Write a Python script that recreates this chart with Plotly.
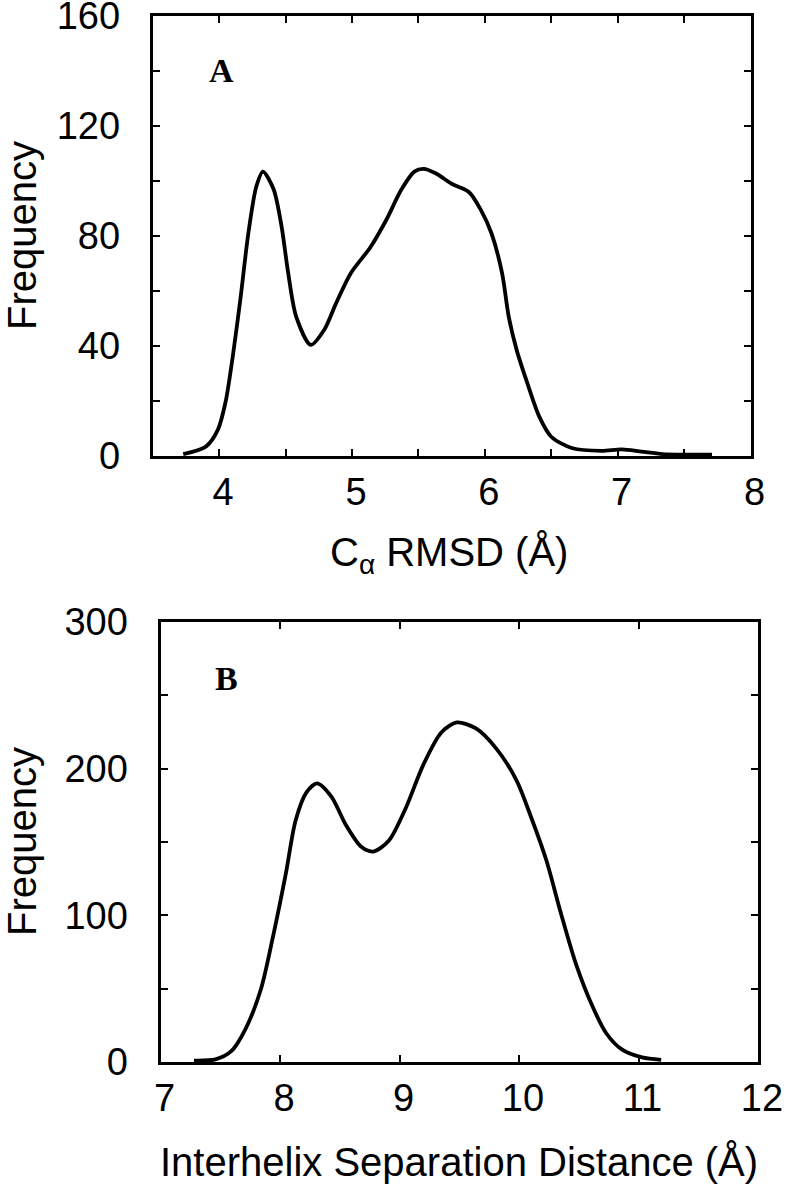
import plotly.graph_objects as go

# ---- Panel A: C-alpha RMSD distribution ----
rmsd_x = [3.73, 3.90, 3.99, 4.05, 4.105, 4.16, 4.22, 4.28, 4.33, 4.41, 4.47, 4.52, 4.58,
          4.69, 4.79, 4.88, 4.99, 5.14, 5.26, 5.37, 5.47, 5.54, 5.63, 5.75, 5.88, 5.97,
          6.05, 6.13, 6.18, 6.24, 6.32, 6.41, 6.50, 6.66, 6.88, 7.03, 7.18, 7.34, 7.71]
rmsd_freq = [0.7, 3.4, 9.5, 20, 37, 57, 81, 98, 103.4, 97, 83.5, 66.5, 50.7,
             40.4, 45.8, 55.5, 66.4, 76, 86, 96.7, 103.4, 104.4, 102.8, 99, 96, 89.5,
             81, 66.5, 50.7, 38.5, 26.5, 14.3, 7, 2.8, 1.9, 2.4, 1.6, 0.7, 0.5]

# ---- Panel B: interhelix separation distance distribution ----
sep_x = [7.28, 7.46, 7.59, 7.71, 7.84, 7.94, 8.05, 8.13, 8.22, 8.31, 8.43, 8.55, 8.68,
         8.78, 8.91, 9.05, 9.20, 9.35, 9.48, 9.64, 9.81, 9.98, 10.10, 10.23, 10.35,
         10.48, 10.61, 10.73, 10.86, 11.03, 11.19]
sep_freq = [1, 1.8, 7.2, 22.3, 49.6, 85, 129, 164.5, 183.7, 190, 181, 161.8, 146.7,
            143.5, 150.8, 172.7, 202.8, 224.7, 231.5, 227.4, 213.7, 191.9, 167.2, 137.2,
            101.6, 66, 38.8, 19.6, 8.6, 3.1, 1.5]

# ---- ticks ----
rmsd_xticks = [4, 5, 6, 7, 8]
rmsd_xticktext = ["4", "5", "6", "7", "8"]
rmsd_xminor = [4.5, 5.5, 6.5, 7.5]
rmsd_yticks = [0, 40, 80, 120, 160]
rmsd_yticktext = ["0", "40", "80", "120", "160"]
rmsd_yminor = [20, 60, 100, 140]
sep_xticks = [7, 8, 9, 10, 11, 12]
sep_xticktext = ["7", "8", "9", "10", "11", "12"]
sep_yticks = [0, 100, 200, 300]
sep_yticktext = ["0", "100", "200", "300"]
sep_yminor = [50, 150, 250]

W, H = 786, 1189
def fx(p):
    return p / W
def fy(p):
    return 1 - p / H

FONT = "Liberation Sans, Arial, Helvetica, sans-serif"
SERIF = "Liberation Serif, Times New Roman, serif"

fig = go.Figure()
fig.add_trace(go.Scatter(x=rmsd_x, y=rmsd_freq, mode="lines", xaxis="x", yaxis="y",
                         line=dict(color="black", width=3.8, shape="spline", smoothing=0.8),
                         showlegend=False))
fig.add_trace(go.Scatter(x=sep_x, y=sep_freq, mode="lines", xaxis="x2", yaxis="y2",
                         line=dict(color="black", width=3.8, shape="spline", smoothing=0.8),
                         showlegend=False))

def axis_style(minor_vals=None):
    d = dict(showline=True, linecolor="black", linewidth=3, mirror="ticks",
             ticks="inside", ticklen=7, tickwidth=2, tickcolor="black",
             showgrid=False, zeroline=False, automargin=False,
             ticklabeloverflow="allow",
             tickfont=dict(family=FONT, size=38, color="black"))
    if minor_vals is not None:
        d["minor"] = dict(tickmode="array", tickvals=minor_vals, ticks="inside",
                          ticklen=7, tickwidth=2, tickcolor="black", showgrid=False)
    return d

fig.update_layout(
    template="none",
    width=W, height=H,
    margin=dict(l=0, r=0, t=0, b=0, autoexpand=False),
    paper_bgcolor="white", plot_bgcolor="white",
    showlegend=False,
    xaxis=dict(domain=[fx(152.7), fx(750.5)], range=[3.5, 8], anchor="y",
               tickmode="array", tickvals=rmsd_xticks, ticktext=rmsd_xticktext,
               ticklabelstandoff=0, ticklabelshift=4, **axis_style(rmsd_xminor)),
    yaxis=dict(domain=[fy(456), fy(16)], range=[0, 160], anchor="x",
               tickmode="array", tickvals=rmsd_yticks, ticktext=rmsd_yticktext,
               ticklabelstandoff=22, **axis_style(rmsd_yminor)),
    xaxis2=dict(domain=[fx(160.5), fx(758)], range=[7, 12], anchor="y2",
                tickmode="array", tickvals=sep_xticks, ticktext=sep_xticktext,
                ticklabelstandoff=0, ticklabelshift=4, **axis_style()),
    yaxis2=dict(domain=[fy(1062), fy(622)], range=[0, 300], anchor="x2",
                tickmode="array", tickvals=sep_yticks, ticktext=sep_yticktext,
                ticklabelstandoff=22, **axis_style(sep_yminor)),
)

annotations = [
    dict(text="<b>A</b>", x=fx(221), y=fy(71), font=dict(family=SERIF, size=34, color="black")),
    dict(text="<b>B</b>", x=fx(226), y=fy(678), font=dict(family=SERIF, size=34, color="black")),
    dict(text="C<sub>α</sub> RMSD (Å)", x=fx(449), y=fy(555), font=dict(family=FONT, size=40, color="black")),
    dict(text="Interhelix Separation Distance (Å)", x=fx(459), y=fy(1162), font=dict(family=FONT, size=40, color="black")),
    dict(text="Frequency", x=fx(22), y=fy(236), textangle=-90, font=dict(family=FONT, size=40, color="black")),
    dict(text="Frequency", x=fx(22), y=fy(842), textangle=-90, font=dict(family=FONT, size=40, color="black")),
]
for a in annotations:
    a.update(xref="paper", yref="paper", showarrow=False, xanchor="center", yanchor="middle")
fig.update_layout(annotations=annotations)

# remove the default 8px page margin so the figure sits at the window's corner
fig.write_html("out.html", config={"displayModeBar": False},
               post_script="document.body.style.margin='0';")
